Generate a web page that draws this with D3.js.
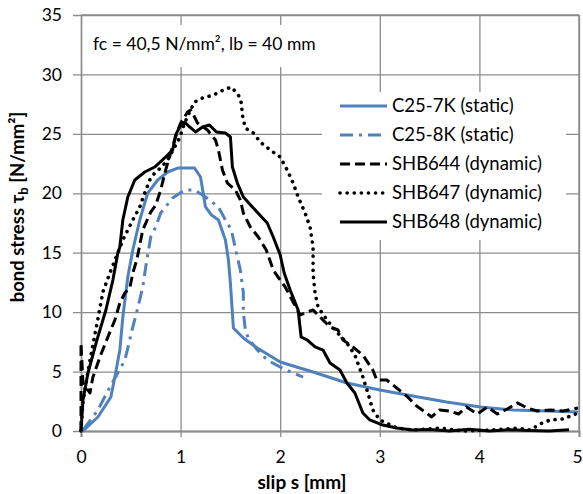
<!DOCTYPE html>
<html>
<head>
<meta charset="utf-8">
<script src="https://cdn.jsdelivr.net/npm/d3@7"></script>
<style>
  body { margin: 0; background: #fff; }
  svg { display: block; font-family: Lato, 'Open Sans', sans-serif; }
</style>
</head>
<body>
<div id="chart"></div>
<script>
// slip s [mm], bond stress tau_b [N/mm²]
const c257k = [
  [0.02, 0], [0.17, 1.18], [0.30, 2.86], [0.34, 4.54], [0.39, 6.81], [0.42, 9.59],
  [0.47, 12.96], [0.52, 15.23], [0.59, 17.75], [0.67, 20.02], [0.77, 21.12], [0.87, 21.79],
  [0.97, 22.12], [1.14, 22.12], [1.20, 21.37], [1.25, 18.85], [1.31, 18.17], [1.38, 17.75],
  [1.45, 16.07], [1.48, 14.39], [1.50, 12.45], [1.53, 8.67], [1.63, 7.82], [1.77, 6.98],
  [2.00, 5.81], [2.33, 4.96], [2.67, 4.04], [3.00, 3.45], [3.33, 2.94], [3.67, 2.44],
  [4.01, 2.02], [4.34, 1.77], [4.68, 1.68], [4.99, 1.60]
]
const c258k = [
  [0.02, 0.08], [0.17, 1.77], [0.29, 3.70], [0.37, 4.88], [0.44, 5.97], [0.47, 6.98],
  [0.52, 8.75], [0.57, 10.35], [0.62, 12.11], [0.65, 13.80], [0.70, 16.32], [0.75, 17.16],
  [0.80, 18.34], [0.92, 19.60], [1.04, 20.28], [1.14, 20.28], [1.25, 19.69], [1.38, 18.85],
  [1.45, 17.75], [1.51, 16.91], [1.56, 14.98], [1.60, 13.55], [1.63, 11.61], [1.63, 10.01],
  [1.65, 8.50], [1.68, 7.82], [1.77, 6.81], [1.87, 5.97], [2.00, 5.38], [2.13, 4.88], [2.23, 4.54]
]
const shb644 = [
  [0, 0], [0, 7.4], [0.02, 4.0], [0.09, 3.20], [0.12, 4.54], [0.19, 6.23], [0.27, 7.91],
  [0.34, 9.34], [0.39, 10.77], [0.44, 11.61], [0.49, 12.03], [0.52, 13.29], [0.56, 14.39],
  [0.62, 16.91], [0.70, 18.42], [0.75, 19.01], [0.80, 20.28], [0.85, 21.96], [0.90, 23.39],
  [0.95, 24.74], [1.00, 25.91], [1.07, 26.84], [1.10, 27.01], [1.13, 26.59], [1.17, 25.91],
  [1.27, 25.32], [1.35, 24.48], [1.38, 23.64], [1.42, 21.96], [1.47, 20.86], [1.55, 20.28],
  [1.60, 19.43], [1.63, 18.34], [1.70, 17.16], [1.78, 16.32], [1.86, 15.23], [1.93, 13.55],
  [2.00, 12.70], [2.05, 12.12], [2.13, 10.85], [2.20, 9.76], [2.27, 10.01], [2.33, 10.18],
  [2.43, 9.34], [2.50, 8.75], [2.58, 8.50], [2.63, 7.66], [2.73, 7.07], [2.83, 6.39],
  [2.93, 5.13], [2.97, 4.29], [3.07, 4.29], [3.17, 3.62], [3.27, 2.94], [3.37, 2.10],
  [3.47, 1.51], [3.52, 1.18], [3.60, 1.77], [3.70, 1.68], [3.79, 1.43], [3.87, 2.02],
  [3.98, 1.43], [4.08, 2.02], [4.18, 1.43], [4.28, 1.85], [4.38, 2.36], [4.48, 1.94],
  [4.58, 1.68], [4.71, 1.77], [4.84, 1.68], [4.99, 1.94]
]
const shb647 = [
  [0, 0], [0.02, 2.5], [0.08, 5.5], [0.16, 9.0], [0.22, 11.7], [0.29, 13.3], [0.37, 14.98],
  [0.42, 16.07], [0.47, 16.91], [0.52, 17.75], [0.59, 18.85], [0.64, 20.02], [0.69, 21.12],
  [0.74, 21.71], [0.80, 22.13], [0.87, 22.80], [0.94, 23.89], [0.99, 24.65], [1.04, 25.91],
  [1.09, 26.84], [1.14, 27.68], [1.22, 28.02], [1.33, 28.27], [1.43, 28.69], [1.51, 28.94],
  [1.58, 28.27], [1.61, 27.60], [1.62, 26.59], [1.65, 25.49], [1.73, 25.07], [1.80, 24.31],
  [1.90, 23.64], [2.00, 23.05], [2.07, 21.96], [2.13, 20.86], [2.18, 19.69], [2.25, 18.34],
  [2.30, 17.16], [2.33, 15.48], [2.33, 13.29], [2.35, 11.61], [2.38, 10.43], [2.47, 9.34],
  [2.55, 8.50], [2.67, 7.40], [2.75, 6.39], [2.83, 4.54], [2.88, 3.20], [2.93, 1.77],
  [3.00, 0.93], [3.17, 0.25], [3.33, 0.08], [3.60, 0.25], [3.84, 0], [4.11, 0.08],
  [4.38, 0.25], [4.51, 0.08], [4.61, 0.59], [4.71, 0.93], [4.84, 1.01], [4.99, 1.51]
]
const shb648 = [
  [0, 0], [0.02, 2.61], [0.07, 4.88], [0.16, 7.66], [0.25, 10.18], [0.32, 12.70], [0.37, 14.98],
  [0.39, 15.48], [0.42, 17.75], [0.47, 19.69], [0.54, 21.12], [0.64, 21.79], [0.74, 22.21],
  [0.84, 22.97], [0.92, 23.64], [0.95, 24.90], [0.99, 25.58], [1.04, 26.00], [1.09, 25.58],
  [1.15, 25.16], [1.22, 25.58], [1.29, 25.74], [1.36, 25.16], [1.45, 25.07], [1.50, 24.74],
  [1.52, 22.21], [1.57, 20.86], [1.63, 19.69], [1.73, 18.76], [1.87, 17.50], [1.93, 16.32],
  [2.00, 14.81], [2.04, 13.29], [2.10, 11.86], [2.18, 10.18], [2.21, 7.91], [2.27, 7.66],
  [2.35, 7.07], [2.43, 6.81], [2.50, 5.72], [2.60, 5.13], [2.67, 4.04], [2.75, 3.20],
  [2.83, 1.51], [2.90, 0.93], [3.03, 0.50], [3.17, 0.25], [3.33, 0.08], [3.50, 0.12],
  [3.70, 0], [3.90, 0.15], [4.10, 0], [4.30, 0.1], [4.50, 0.05], [4.70, 0], [4.90, 0.1]
]

const seriesNames = ['C25-7K (static)', 'C25-8K (static)', 'SHB644 (dynamic)', 'SHB647 (dynamic)', 'SHB648 (dynamic)']
const seriesData = [c257k, c258k, shb644, shb647, shb648]
const xTicks = [0, 1, 2, 3, 4, 5]
const yTicks = [0, 5, 10, 15, 20, 25, 30, 35]
const note = 'fc = 40,5 N/mm², lb = 40 mm'

const styles = [
  { color: '#4f81bd', dash: null, cap: 'butt', w: 3 },
  { color: '#4f81bd', dash: '13 6 3 6', cap: 'butt', w: 3 },
  { color: '#000', dash: '10 5', cap: 'butt', w: 3 },
  { color: '#000', dash: '0.1 7', cap: 'round', w: 3.6 },
  { color: '#000', dash: null, cap: 'butt', w: 3 }
]

const width = 583
const height = 494
const margin = { top: 15, right: 4, bottom: 63, left: 81 }
const GRID = '#8c8c8c'

const svg = d3.select('#chart').append('svg')
  .attr('width', width)
  .attr('height', height)

const xScale = d3.scaleLinear()
  .domain([0, 5])
  .range([margin.left, width - margin.right])
const yScale = d3.scaleLinear()
  .domain([0, 35])
  .range([height - margin.bottom, margin.top])

// grid lines
svg.append('g')
  .attr('transform', `translate(0, ${margin.top})`)
  .call(d3.axisTop(xScale).tickValues(xTicks).tickSize(-(yScale(0) - margin.top)).tickFormat(''))
  .call(g => g.select('.domain').remove())
  .call(g => g.selectAll('line').attr('stroke', GRID).attr('stroke-width', 1.3))
svg.append('g')
  .attr('transform', `translate(${xScale(5)}, 0)`)
  .call(d3.axisRight(yScale).tickValues(yTicks).tickSize(-(xScale(5) - margin.left + 8)).tickFormat(''))
  .call(g => g.select('.domain').remove())
  .call(g => g.selectAll('line').attr('stroke', GRID).attr('stroke-width', 1.3))

// white box behind the note
svg.append('rect')
  .attr('x', xScale(0) + 1.5).attr('y', 25)
  .attr('width', 253).attr('height', 42)
  .attr('fill', '#fff')
svg.append('text')
  .attr('x', 93).attr('y', 50)
  .attr('font-size', 17.5)
  .attr('fill', '#000')
  .text(note)

// axes
const xAxis = svg.append('g')
  .attr('transform', `translate(0, ${yScale(0)})`)
  .call(d3.axisBottom(xScale).tickValues(xTicks).tickSize(6).tickPadding(14).tickFormat(d3.format('d')))
xAxis.select('.domain').attr('stroke', GRID).attr('stroke-width', 2)
xAxis.selectAll('line').attr('stroke', GRID).attr('stroke-width', 1.3)
xAxis.selectAll('text').attr('font-size', 17.5).attr('fill', '#000').attr('font-family', 'Lato, sans-serif')
  .attr('dx', d => d === 5 ? -2 : 0)

const yAxis = svg.append('g')
  .attr('transform', `translate(${xScale(0)}, 0)`)
  .call(d3.axisLeft(yScale).tickValues(yTicks).tickSize(0).tickPadding(19).tickFormat(d3.format('d')))
yAxis.select('.domain').attr('stroke', GRID).attr('stroke-width', 1.5)
yAxis.selectAll('text').attr('font-size', 17.5).attr('fill', '#000').attr('font-family', 'Lato, sans-serif')

// top / right border
svg.append('line')
  .attr('x1', xScale(0)).attr('x2', xScale(5))
  .attr('y1', yScale(35)).attr('y2', yScale(35))
  .attr('stroke', GRID).attr('stroke-width', 1.5)
svg.append('line')
  .attr('x1', xScale(5)).attr('x2', xScale(5))
  .attr('y1', yScale(35)).attr('y2', yScale(0))
  .attr('stroke', GRID).attr('stroke-width', 1.5)

// curves
const line = d3.line()
  .x(d => xScale(d[0]))
  .y(d => yScale(d[1]))

svg.append('g')
  .selectAll('path')
  .data(seriesData)
  .join('path')
  .attr('d', d => line(d))
  .attr('fill', 'none')
  .attr('stroke', (d, i) => styles[i].color)
  .attr('stroke-width', (d, i) => styles[i].w)
  .attr('stroke-dasharray', (d, i) => styles[i].dash)
  .attr('stroke-linecap', (d, i) => styles[i].cap)
  .attr('stroke-linejoin', 'round')

// legend
svg.append('rect')
  .attr('x', 322).attr('y', 92)
  .attr('width', 244).attr('height', 148)
  .attr('fill', '#fff')
const legend = svg.append('g')

const rows = legend.selectAll('g')
  .data(seriesNames)
  .join('g')
  .attr('transform', (d, i) => `translate(340, ${106 + i * 29})`)
rows.append('line')
  .attr('x1', 0).attr('x2', 47)
  .attr('stroke', (d, i) => styles[i].color)
  .attr('stroke-width', (d, i) => styles[i].w)
  .attr('stroke-dasharray', (d, i) => styles[i].dash)
  .attr('stroke-linecap', (d, i) => styles[i].cap)
rows.append('text')
  .attr('x', 52)
  .attr('dy', '0.35em')
  .attr('font-size', 18.5)
  .text(d => d)

// axis titles
svg.append('text')
  .attr('x', 302).attr('y', 489)
  .attr('text-anchor', 'middle')
  .attr('font-size', 19)
  .attr('font-weight', 'bold')
  .text('slip s [mm]')

const yTitle = svg.append('text')
  .attr('transform', 'translate(24, 207) rotate(-90)')
  .attr('text-anchor', 'middle')
  .attr('font-size', 18.5)
  .attr('font-weight', 'bold')
yTitle.append('tspan').text('bond stress τ')
yTitle.append('tspan').attr('dy', 4).attr('font-size', 13).text('b')
yTitle.append('tspan').attr('dy', -4).text(' [N/mm²]')
</script>
</body>
</html>
